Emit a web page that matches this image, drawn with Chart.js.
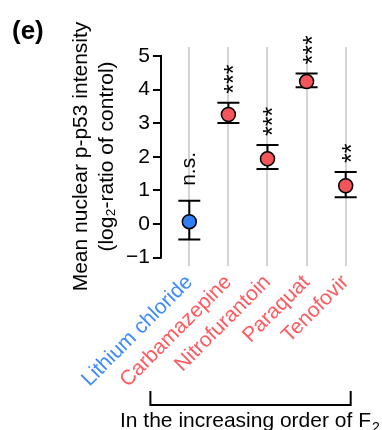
<!DOCTYPE html>
<html><head><meta charset="utf-8">
<script src="https://cdn.jsdelivr.net/npm/chart.js@4/dist/chart.umd.min.js"></script>
<style>html,body{margin:0;padding:0;background:#fff;}canvas{display:block;}</style>
</head><body>
<canvas id="c" width="382" height="430"></canvas>
<script>
// ---- data ----
const categories = ['Lithium chloride', 'Carbamazepine', 'Nitrofurantoin', 'Paraquat', 'Tenofovir'];
const means = [0.07, 3.26, 1.94, 4.24, 1.14];
const upperErr = [0.69, 3.61, 2.35, 4.48, 1.55];
const lowerErr = [-0.46, 3.01, 1.64, 4.07, 0.80];
const significance = ['n.s.', '***', '***', '***', '**'];
const groups = ['control', 'drug', 'drug', 'drug', 'drug'];
const yTicks = [-1, 0, 1, 2, 3, 4, 5];
const yTitle = ['Mean nuclear p-p53 intensity', '(log\u2082-ratio of control)'];
const footerText = 'In the increasing order of F';
const footerSub = '2';
const panelLabel = '(e)';

// ---- styles ----
const FONT = "'Liberation Sans', Arial, Helvetica, sans-serif";
const BLUE_PT = '#2F7FF0', RED_PT = '#F4555B';
const BLUE_TX = '#3D8BFF', RED_TX = '#FF5A60';
const ptColor = i => groups[i] === 'control' ? BLUE_PT : RED_PT;
const txColor = i => groups[i] === 'control' ? BLUE_TX : RED_TX;

const overlay = {
  id: 'overlay',
  beforeDatasetsDraw(chart) {
    const {ctx, scales: {x, y}, chartArea} = chart;
    ctx.save();
    ctx.strokeStyle = '#000';
    ctx.lineWidth = 2;
    // y axis line only between first and last tick
    ctx.beginPath();
    ctx.moveTo(chartArea.left, y.getPixelForValue(yTicks[0]) + 1);
    ctx.lineTo(chartArea.left, y.getPixelForValue(yTicks[yTicks.length - 1]) - 1);
    ctx.stroke();
    // error bars
    categories.forEach((c, i) => {
      const px = x.getPixelForValue(i);
      const pu = y.getPixelForValue(upperErr[i]);
      const pl = y.getPixelForValue(lowerErr[i]);
      ctx.beginPath();
      ctx.moveTo(px, pu); ctx.lineTo(px, pl);
      ctx.moveTo(px - 11, pu); ctx.lineTo(px + 11, pu);
      ctx.moveTo(px - 11, pl); ctx.lineTo(px + 11, pl);
      ctx.stroke();
    });
    ctx.restore();
  },
  afterDraw(chart) {
    const {ctx, scales: {x, y}} = chart;
    ctx.save();
    ctx.fillStyle = '#000';
    // significance labels (rotated)
    ctx.textAlign = 'left';
    ctx.textBaseline = 'alphabetic';
    significance.forEach((s, i) => {
      const px = x.getPixelForValue(i);
      const pu = y.getPixelForValue(upperErr[i]);
      const stars = s.indexOf('*') >= 0;
      ctx.font = (stars ? '25px ' : '21px ') + FONT;
      const off = stars ? 14 : 6;
      const gap = stars ? 9 : 15;
      ctx.save();
      ctx.translate(px + off, pu - gap);
      ctx.rotate(-Math.PI / 2);
      ctx.fillText(s, 0, 0);
      ctx.restore();
    });
    // bracket
    const bl = x.getPixelForValue(1) - 78;
    const br = x.getPixelForValue(4) + 5;
    ctx.strokeStyle = '#000';
    ctx.lineWidth = 2;
    ctx.beginPath();
    ctx.moveTo(bl, 391); ctx.lineTo(bl, 405); ctx.lineTo(br, 405); ctx.lineTo(br, 391);
    ctx.stroke();
    // footer text
    ctx.font = '21px ' + FONT;
    ctx.fillText(footerText, 120, 427);
    const w = ctx.measureText(footerText).width;
    ctx.font = '14px ' + FONT;
    ctx.fillText(footerSub, 120 + w + 1, 432);
    // panel label
    ctx.font = 'bold 26px ' + FONT;
    ctx.fillText(panelLabel, 12, 39);
    ctx.restore();
  }
};

new Chart(document.getElementById('c'), {
  type: 'scatter',
  data: {
    datasets: [{
      data: means.map((m, i) => ({x: i, y: m})),
      pointRadius: 7,
      pointHoverRadius: 7,
      pointBorderWidth: 1.5,
      pointBorderColor: '#000',
      pointBackgroundColor: means.map((m, i) => ptColor(i)),
      showLine: false
    }]
  },
  options: {
    responsive: false,
    animation: false,
    devicePixelRatio: 1,
    layout: {padding: {left: 0, top: 47, right: 10, bottom: 0}},
    plugins: {legend: {display: false}, tooltip: {enabled: false}},
    scales: {
      x: {
        type: 'linear',
        min: -0.724,
        max: 4.673,
        border: {display: false},
        grid: {display: true, drawOnChartArea: true, drawTicks: false, color: '#D4D4D4', lineWidth: 2},
        ticks: {
          stepSize: 1,
          includeBounds: false,
          autoSkip: false,
          minRotation: 45,
          maxRotation: 45,
          padding: 4,
          font: {family: FONT, size: 21},
          color: c => txColor(c.tick.value),
          callback: v => categories[v]
        },
        afterFit: s => { s.height = 164; }
      },
      y: {
        type: 'linear',
        min: -1.25,
        max: 5.27,
        border: {display: false},
        grid: {display: true, drawOnChartArea: false, drawTicks: true, tickLength: 8, color: '#000', lineWidth: 2},
        ticks: {
          stepSize: 1,
          includeBounds: false,
          padding: 3,
          font: {family: FONT, size: 21},
          color: '#000',
          callback: v => yTicks.includes(v) ? (v < 0 ? '\u2212' + Math.abs(v) : String(v)) : ''
        },
        title: {
          display: true,
          text: yTitle,
          color: '#000',
          font: {family: FONT, size: 21, lineHeight: 1.2},
          padding: {top: 69, bottom: 0}
        },
        afterFit: s => { s.width = 161; }
      }
    }
  },
  plugins: [overlay]
});
</script>
</body></html>
